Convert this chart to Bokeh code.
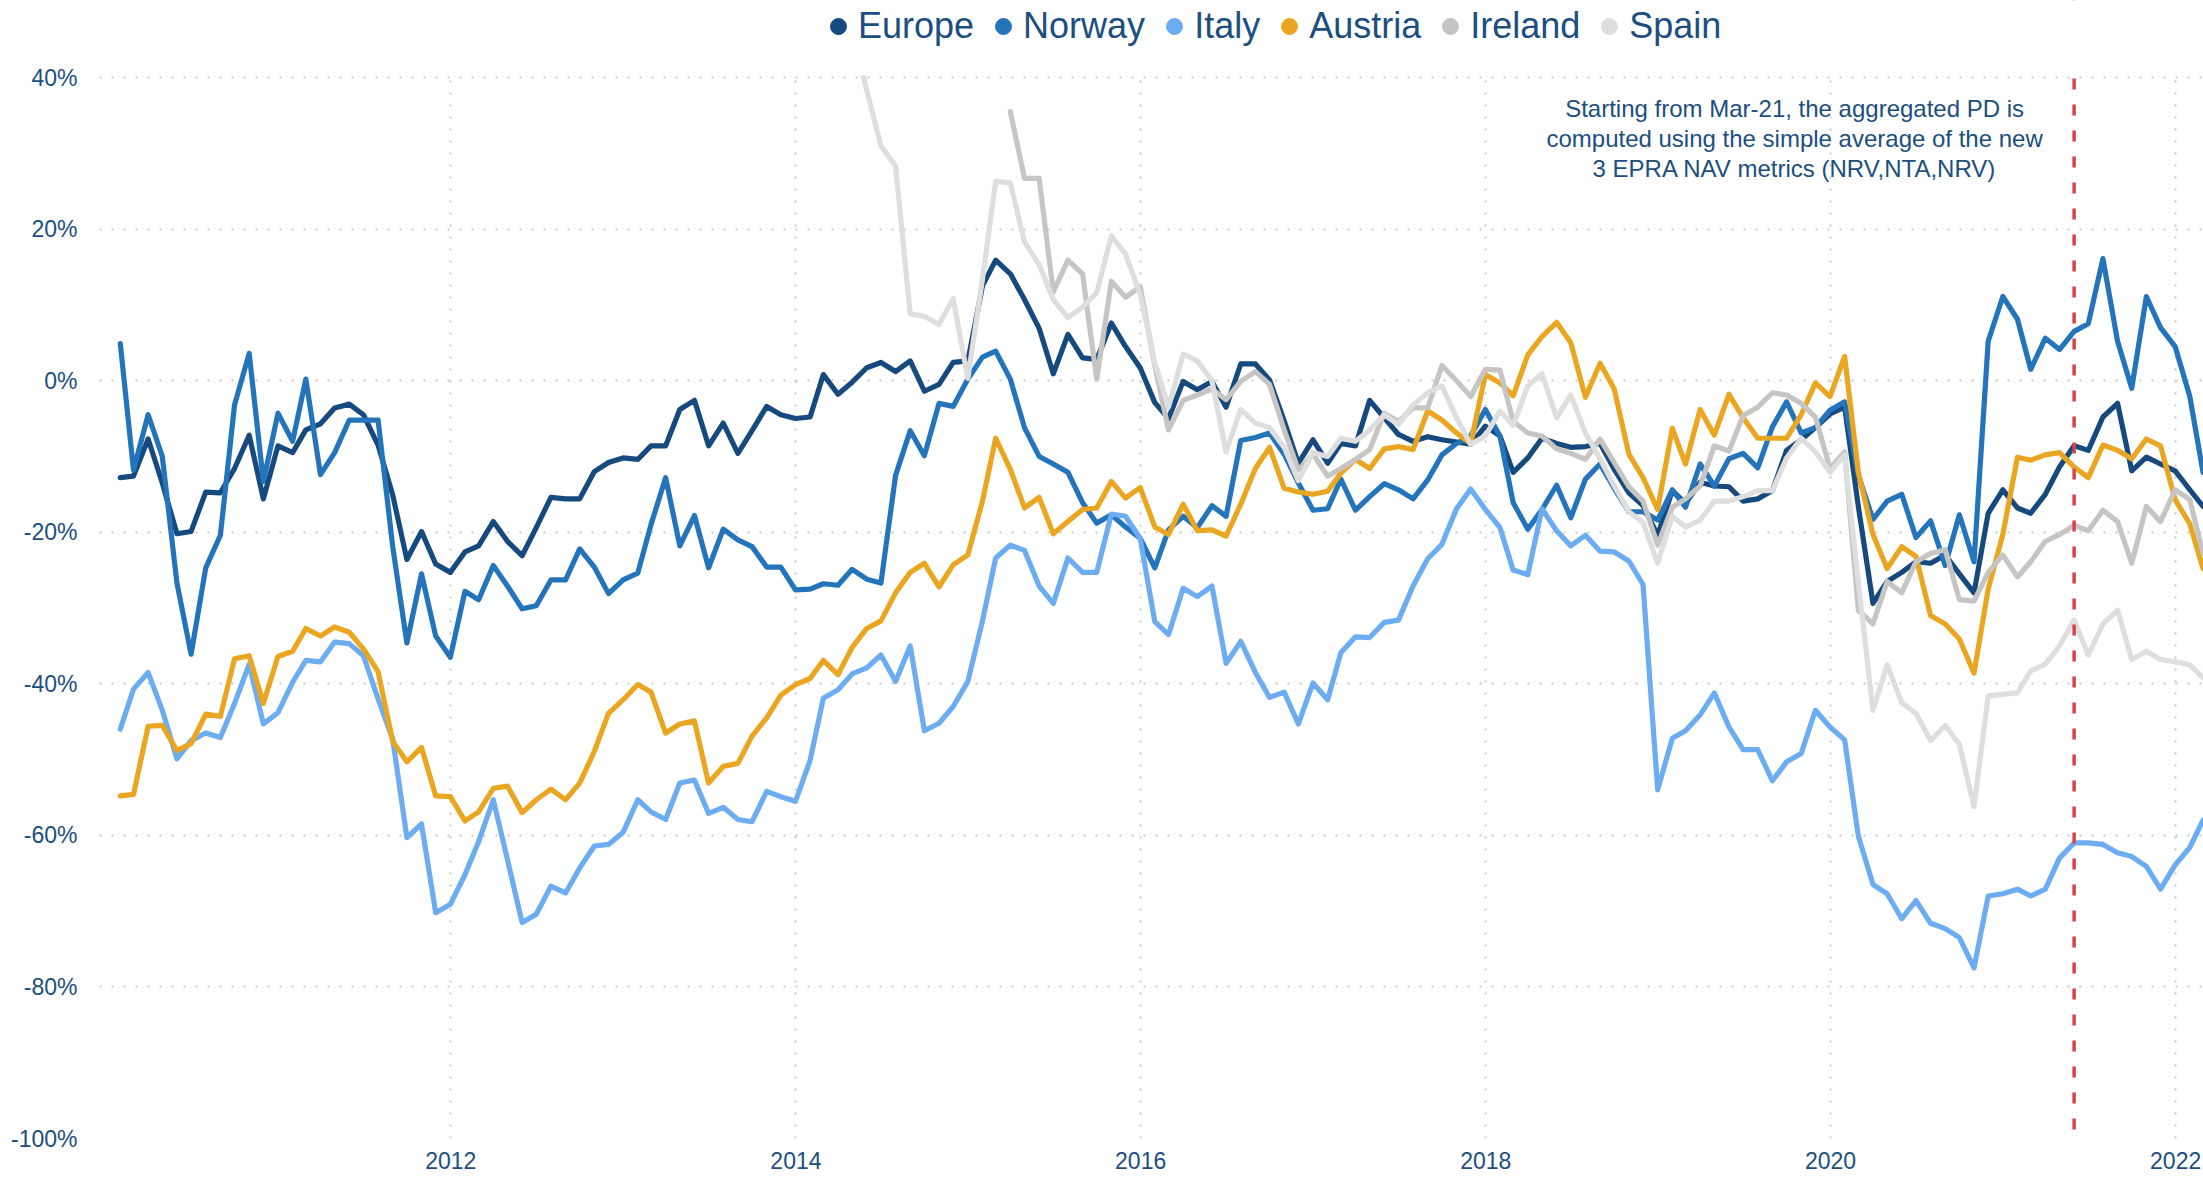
import pandas as pd
from bokeh.plotting import figure
from bokeh.models import Range1d, FixedTicker, Span, Label, Legend, LegendItem, BoxAnnotation
from bokeh.embed import file_html
from bokeh.resources import INLINE

# ---------------- data (monthly, month-end, % premium/discount) ----------------
FIRST_MONTH = "2010-01-01"
N_MONTHS = 146  # Jan-2010 .. Feb-2022

europe = [
    -12.8, -12.6, -7.7, -13.5, -20.2, -19.9, -14.7, -14.8, -11.6, -7.2,
    -15.6, -8.6, -9.5, -6.5, -5.7, -3.6, -3.1, -4.5, -8.5, -15.1,
    -23.6, -19.9, -24.2, -25.3, -22.6, -21.8, -18.6, -21.2, -23.1, -19.4,
    -15.4, -15.6, -15.6, -12.0, -10.8, -10.2, -10.4, -8.6, -8.6, -3.8,
    -2.6, -8.6, -5.6, -9.6, -6.6, -3.4, -4.5, -5.0, -4.8, 0.8,
    -1.8, -0.2, 1.7, 2.4, 1.2, 2.6, -1.4, -0.5, 2.4, 2.6,
    12.5, 15.9, 14.1, 10.7, 6.9, 0.9, 6.1, 3.0, 2.8, 7.6,
    4.5, 1.7, -2.9, -5.0, -0.1, -1.2, -0.1, -3.5, 2.2, 2.2,
    0.1, -5.3, -10.9, -7.8, -10.9, -8.3, -8.6, -2.6, -4.9, -7.1,
    -8.0, -7.4, -7.8, -8.1, -8.4, -6.0, -7.3, -12.1, -10.2, -7.6,
    -8.3, -8.8, -8.7, -8.3, -11.7, -14.8, -16.5, -20.4, -14.5, -16.2,
    -13.4, -13.9, -14.0, -15.9, -15.6, -14.5, -9.2, -7.8, -6.2, -4.4,
    -3.5, -16.6, -29.4, -26.5, -25.3, -23.9, -24.1, -23.0, -25.5, -28.0,
    -17.5, -14.4, -16.8, -17.5, -15.0, -11.4, -8.6, -9.2, -4.8, -3.0,
    -11.9, -10.1, -11.0, -11.9, -14.4, -16.6,
]

norway = [
    4.9, -11.8, -4.5, -10.0, -26.7, -36.1, -24.7, -20.4, -3.2, 3.6,
    -13.3, -4.3, -8.0, 0.2, -12.4, -9.5, -5.2, -5.2, -5.2, -21.9,
    -34.6, -25.5, -33.7, -36.5, -27.8, -28.9, -24.4, -27.1, -30.1, -29.7,
    -26.3, -26.3, -22.2, -24.6, -28.1, -26.3, -25.4, -19.0, -12.8, -21.8,
    -17.8, -24.7, -19.6, -21.0, -21.9, -24.6, -24.6, -27.6, -27.5, -26.8,
    -27.0, -24.9, -26.2, -26.7, -12.5, -6.6, -9.9, -3.0, -3.4, 0.2,
    3.1, 3.9, 0.2, -6.2, -10.0, -11.0, -12.1, -16.1, -18.8, -17.7,
    -19.3, -20.8, -24.7, -19.7, -17.9, -19.4, -16.5, -17.9, -7.9, -7.5,
    -6.9, -9.7, -13.5, -17.1, -16.9, -13.0, -17.1, -15.3, -13.6, -14.4,
    -15.6, -13.1, -9.8, -8.3, -7.3, -3.8, -7.3, -16.1, -19.6, -17.0,
    -13.8, -18.1, -13.0, -11.0, -14.2, -17.3, -17.3, -18.4, -14.4, -16.7,
    -11.0, -13.9, -10.3, -9.6, -11.5, -6.1, -2.8, -6.9, -6.2, -3.9,
    -2.8, -12.5, -18.3, -15.9, -15.0, -20.7, -18.5, -24.4, -17.7, -23.9,
    5.2, 11.1, 8.1, 1.5, 5.6, 4.1, 6.5, 7.5, 16.1, 5.2,
    -1.0, 11.1, 7.0, 4.5, -2.1, -12.1,
]

italy = [
    -46.0, -40.7, -38.5, -43.5, -49.9, -47.5, -46.5, -47.1, -42.6, -37.4,
    -45.3, -43.8, -39.8, -36.9, -37.1, -34.5, -34.7, -36.3, -42.0, -47.3,
    -60.3, -58.5, -70.2, -69.1, -65.2, -60.8, -55.3, -63.2, -71.5, -70.4,
    -66.7, -67.6, -64.3, -61.4, -61.2, -59.6, -55.3, -56.9, -57.9, -53.1,
    -52.7, -57.1, -56.3, -57.9, -58.2, -54.2, -54.9, -55.5, -50.1, -41.9,
    -40.8, -38.7, -37.9, -36.2, -39.7, -35.0, -46.2, -45.2, -43.0, -39.7,
    -31.7, -23.4, -21.7, -22.4, -27.1, -29.4, -23.4, -25.3, -25.3, -17.6,
    -17.9, -20.8, -31.8, -33.5, -27.4, -28.5, -27.1, -37.3, -34.4, -38.5,
    -41.8, -41.1, -45.3, -39.9, -42.1, -35.9, -33.8, -33.9, -31.9, -31.6,
    -27.1, -23.5, -21.6, -16.9, -14.3, -17.0, -19.4, -25.0, -25.6, -16.9,
    -19.8, -21.8, -20.4, -22.5, -22.6, -23.8, -26.9, -54.0, -47.2, -46.2,
    -44.1, -41.2, -45.7, -48.7, -48.7, -52.8, -50.3, -49.2, -43.5, -45.7,
    -47.4, -60.1, -66.5, -67.7, -71.0, -68.6, -71.6, -72.3, -73.5, -77.5,
    -68.0, -67.7, -67.1, -68.0, -67.1, -63.0, -61.0, -61.0, -61.2, -62.3,
    -62.8, -64.1, -67.1, -63.9, -61.6, -58.0,
]

austria = [
    -54.8, -54.6, -45.6, -45.5, -48.8, -47.9, -44.0, -44.3, -36.7, -36.3,
    -42.6, -36.4, -35.7, -32.7, -33.7, -32.5, -33.2, -35.4, -38.4, -47.6,
    -50.3, -48.4, -54.8, -54.9, -58.1, -56.9, -53.8, -53.5, -57.0, -55.3,
    -53.9, -55.3, -53.1, -48.9, -43.9, -42.1, -40.1, -41.1, -46.5, -45.3,
    -44.9, -53.1, -50.9, -50.5, -46.9, -44.5, -41.5, -40.1, -39.3, -36.9,
    -38.8, -35.2, -32.7, -31.7, -28.0, -25.3, -24.1, -27.2, -24.3, -23.0,
    -15.9, -7.6, -11.7, -16.8, -15.4, -20.2, -18.6, -17.0, -16.8, -13.3,
    -15.5, -14.1, -19.3, -20.3, -16.3, -19.8, -19.7, -20.5, -16.3, -11.6,
    -8.8, -14.2, -14.7, -15.0, -14.6, -12.2, -10.4, -11.6, -9.0, -8.7,
    -9.1, -4.0, -5.2, -6.9, -8.3, 0.8, -0.3, -2.0, 3.4, 5.8,
    7.7, 5.0, -2.2, 2.3, -1.1, -9.7, -12.8, -17.0, -6.3, -11.0,
    -3.8, -7.2, -1.8, -4.9, -7.6, -7.6, -7.6, -4.5, -0.3, -2.1,
    3.2, -12.1, -20.3, -24.8, -21.9, -23.2, -31.0, -32.1, -34.1, -38.6,
    -27.5, -20.3, -10.1, -10.5, -9.8, -9.5, -11.4, -12.8, -8.5, -9.2,
    -10.3, -7.7, -8.6, -15.7, -18.9, -24.8,
]

# Ireland: Mar-2015 .. Feb-2022
ireland = [
    35.5, 26.7, 26.7, 11.7, 15.9, 14.1, 0.2, 13.1,
    11.0, 12.4, 2.0, -6.5, -2.6, -1.9, -1.1, -2.5, -0.1, 1.2,
    -0.5, -6.5, -11.8, -9.7, -12.6, -11.6, -10.4, -9.1, -4.3, -5.4,
    -3.6, -3.6, 2.0, 0.0, -2.1, 1.5, 1.4, -5.4, -6.9, -7.3,
    -9.0, -9.6, -10.4, -7.7, -10.8, -14.0, -15.9, -21.7, -16.7, -15.6,
    -13.9, -8.6, -9.3, -4.6, -3.5, -1.6, -1.9, -3.0, -4.8, -11.6,
    -9.4, -30.3, -32.1, -26.5, -28.0, -23.9, -22.8, -22.3, -28.9, -29.1,
    -25.3, -23.0, -25.9, -23.9, -21.2, -20.3, -19.1, -19.8, -17.1, -18.6,
    -24.1, -16.6, -18.6, -14.4, -15.7, -22.8,
]

# Spain: Apr-2014 .. Feb-2022
spain = [
    46.0, 38.3, 31.0, 28.3, 8.8, 8.5, 7.4, 10.8, 0.3,
    13.4, 26.3, 26.1, 18.3, 15.3, 10.7, 8.3, 9.7, 11.6, 19.1,
    16.7, 11.4, 2.4, -3.5, 3.5, 2.6, 0.0, -9.4, -3.8, -5.6,
    -6.2, -8.8, -13.2, -9.5, -10.0, -7.6, -8.0, -6.5, -4.5, -5.8,
    -3.2, -1.6, -0.7, -4.9, -8.4, -7.3, -4.0, -5.9, -0.7, 0.9,
    -4.9, -1.9, -6.9, -10.3, -13.9, -17.3, -18.7, -24.1, -17.9, -19.3,
    -18.4, -15.9, -15.9, -15.3, -14.5, -14.5, -10.2, -7.6, -9.4, -12.1,
    -9.8, -26.6, -43.5, -37.5, -42.5, -43.9, -47.5, -45.5, -48.0, -56.2,
    -41.6, -41.4, -41.2, -38.3, -37.4, -35.0, -31.6, -36.2, -32.1, -30.3,
    -36.8, -35.7, -36.8, -37.1, -37.5, -39.2,
]

series_names = ["Europe", "Norway", "Italy", "Austria", "Ireland", "Spain"]
series_values = [europe, norway, italy, austria, ireland, spain]
series_colors = ["#164a7e", "#2474bc", "#6cacf0", "#eaa620", "#c6c5c3", "#dedede"]

x_tick_years = [2012, 2014, 2016, 2018, 2020, 2022]
y_ticks = [-100, -80, -60, -40, -20, 0, 20, 40]
y_tick_labels = ["-100%", "-80%", "-60%", "-40%", "-20%", "0%", "20%", "40%"]
Y_MIN, Y_MAX = -100, 40

methodology_change = "2021-05-31"
note_lines = [
    "Starting from Mar-21, the aggregated PD is",
    "computed using the simple average of the new",
    "3 EPRA NAV metrics (NRV,NTA,NRV)",
]

# ---------------- build ----------------
TEXT = "#1c4e80"
FONT = "Liberation Sans"
W, H = 2203, 1178
LEFT, BOTTOM = 99, 40
PLOT_TOP = 77                      # screen y of the 40% line
FRAME_H = H - BOTTOM               # frame spans the full height (legend lives inside it)
PX_PER_UNIT = (FRAME_H - PLOT_TOP) / (Y_MAX - Y_MIN)
Y_TOP = Y_MAX + PLOT_TOP / PX_PER_UNIT


def ms(ts):
    return pd.Timestamp(ts).value / 1e6


dates = pd.date_range(FIRST_MONTH, periods=N_MONTHS, freq="MS") + pd.offsets.MonthEnd(0)

p = figure(
    width=W, height=H,
    x_axis_type="datetime",
    x_range=Range1d(ms("2009-12-18"), ms("2022-03-01")),
    y_range=Range1d(Y_MIN, Y_TOP),
    output_backend="svg", toolbar_location=None,
    min_border_left=LEFT, min_border_right=0, min_border_top=0, min_border_bottom=BOTTOM,
)
p.outline_line_color = None
p.background_fill_color = "white"

legend_items = []
for name, vals, col in zip(series_names, series_values, series_colors):
    xs = list(dates[N_MONTHS - len(vals):])
    p.line(xs, vals, line_color=col, line_width=5.2, line_join="round", line_cap="round")
    marker = p.scatter([xs[0]], [vals[0]], size=16, fill_color=col, line_color=col, visible=False)
    legend_items.append(LegendItem(label=name, renderers=[marker]))

# axes
x_tick_ms = [ms(f"{y}-01-01") for y in x_tick_years]
p.xaxis.ticker = FixedTicker(ticks=x_tick_ms)
p.xaxis.major_label_overrides = {t: str(y) for t, y in zip(x_tick_ms, x_tick_years)}
p.yaxis.ticker = FixedTicker(ticks=y_ticks)
p.yaxis.major_label_overrides = {t: s for t, s in zip(y_ticks, y_tick_labels)}

for ax in (p.xaxis, p.yaxis):
    ax.axis_line_color = None
    ax.major_tick_line_color = None
    ax.minor_tick_line_color = None
    ax.major_tick_in = 0
    ax.major_tick_out = 0
    ax.minor_tick_in = 0
    ax.minor_tick_out = 0
    ax.major_label_text_font = FONT
    ax.major_label_text_font_size = "23px"
    ax.major_label_text_color = TEXT
p.xaxis.major_label_standoff = 13
p.yaxis.major_label_standoff = 22

p.grid.grid_line_color = "#c8c8c8"
p.grid.grid_line_dash = "2 10"
p.grid.grid_line_width = 2

# vertical dashed marker
p.add_layout(Span(location=ms(methodology_change), dimension="height",
                  line_color="#d8434c", line_width=3.5, line_dash="11 15"))

# everything above the 40% line is blank (plot area ends there)
p.add_layout(BoxAnnotation(bottom=Y_MAX + 0.25, fill_color="white", fill_alpha=1.0,
                           line_alpha=0))

# note
note_x = ms("2019-10-17")
for txt, yv in zip(note_lines, [35.96, 32.0, 28.05]):
    p.add_layout(Label(x=note_x, y=yv, text=txt, text_align="center",
                       text_baseline="alphabetic", text_font=FONT,
                       text_font_size="24px", text_color=TEXT))

# legend at the top (offsets from the frame's bottom-left corner)
LEG_FONT = 36
LEG_H = 1.353 * LEG_FONT           # measured row height of the legend
LEG_CENTER = 23                    # screen y of the legend row centre
legend = Legend(
    items=legend_items, orientation="horizontal",
    location=(719, round(FRAME_H - LEG_CENTER - LEG_H / 2)),
    glyph_width=40, glyph_height=40, label_standoff=0, spacing=9,
    padding=0, margin=0, border_line_color=None, background_fill_alpha=0,
    label_text_font=FONT, label_text_font_size=f"{LEG_FONT}px", label_text_color=TEXT,
)
p.add_layout(legend, "center")

open("out.html", "w").write(file_html(p, INLINE))
